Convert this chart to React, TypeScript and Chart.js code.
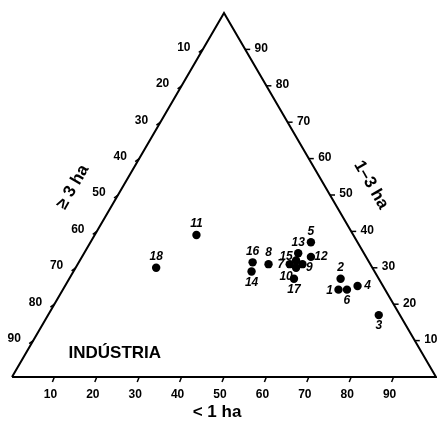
import React, { useEffect, useRef } from "react";
import { Chart, registerables } from "chart.js";

Chart.register(...registerables);

// Ternary data (percent of area): < 1 ha, 1–3 ha, ≥ 3 ha
const pointIds = ["1", "2", "3", "4", "5", "6", "7", "8", "9", "10", "11", "12", "13", "14", "15", "16", "17", "18"];
const lessThan1ha = [65, 64, 78, 69, 52, 67, 50, 45, 53, 52, 24, 54, 50.5, 42, 51, 41, 53, 19];
const from1to3ha = [24, 27, 17, 25, 37, 24, 31, 31, 31, 30, 39, 33, 34, 29, 32, 31.5, 27, 30];
const atLeast3ha = [11, 9, 5, 6, 11, 9, 19, 24, 16, 18, 37, 13, 15.5, 29, 17, 27.5, 20, 51];
const tickValues = [10, 20, 30, 40, 50, 60, 70, 80, 90];
const labelSides = ["left", "top", "bottom", "right", "top", "bottom", "left", "top", "rightBelow", "leftBelow", "top", "right", "top", "bottom", "leftAbove", "top", "bottom", "top"];

const bottomTitle = "< 1 ha";
const leftTitle = "≥ 3 ha";
const rightTitle = "1–3 ha";
const panelTitle = "INDÚSTRIA";

// helpers: ternary -> cartesian (X in 0..100 along base, Y = 1–3 ha share)
const toX = (a: number, b: number) => a + b / 2;
const toY = (b: number) => b;

const sideOffsets: Record<string, [number, number]> = {
  top: [0, -11],
  bottom: [0, 11],
  left: [-9, 1],
  right: [10, 0],
  rightBelow: [7, 4],
  leftBelow: [-10, 9],
  leftAbove: [-10, -4],
};

const FONT = "'Liberation Sans', Arial, sans-serif";

const ternaryPlugin = {
  id: "ternaryDecor",
  afterDatasetsDraw(chart: any) {
    const ctx = chart.ctx as CanvasRenderingContext2D;
    const xs = chart.scales.x;
    const ys = chart.scales.y;
    const px = (a: number, b: number) => [xs.getPixelForValue(toX(a, b)), ys.getPixelForValue(toY(b))];
    ctx.save();
    ctx.strokeStyle = "#000";
    ctx.fillStyle = "#000";
    ctx.lineWidth = 1.5;
    ctx.textAlign = "center";
    ctx.textBaseline = "middle";
    ctx.font = `bold 12px ${FONT}`;

    tickValues.forEach((v) => {
      // bottom axis (< 1 ha): a = v, b = 0
      let [x, y] = px(v, 0);
      ctx.beginPath();
      ctx.moveTo(x, y);
      ctx.lineTo(x - 2, y + 5);
      ctx.stroke();
      ctx.fillText(String(v), x - 4, y + 18);

      // left axis (≥ 3 ha): c = v, a = 0, b = 100 - v
      [x, y] = px(0, 100 - v);
      ctx.beginPath();
      ctx.moveTo(x, y);
      ctx.lineTo(x - 4, y + 3);
      ctx.stroke();
      ctx.fillText(String(v), x - 19, y - 2);

      // right axis (1–3 ha): b = v, a = 100 - v
      [x, y] = px(100 - v, v);
      ctx.beginPath();
      ctx.moveTo(x, y);
      ctx.lineTo(x + 5, y);
      ctx.stroke();
      ctx.fillText(String(v), x + 16, y - 1);
    });

    // axis titles
    ctx.font = `bold 17px ${FONT}`;
    let [bx, by] = px(50, 0);
    ctx.fillText(bottomTitle, bx - 7, by + 35);

    let [lx, ly] = px(0, 50);
    ctx.save();
    ctx.translate(lx - 45, ly - 8);
    ctx.rotate(-Math.PI / 3);
    ctx.fillText(leftTitle, 0, 0);
    ctx.restore();

    let [rx, ry] = px(50, 50);
    ctx.save();
    ctx.translate(rx + 41, ry - 10);
    ctx.rotate(Math.PI / 3);
    ctx.fillText(rightTitle, 0, 0);
    ctx.restore();

    // panel title
    let [tx, ty] = px(21, 6.5);
    ctx.fillText(panelTitle, tx, ty);

    // point labels
    ctx.font = `italic bold 12px ${FONT}`;
    pointIds.forEach((id, i) => {
      const [x, y] = px(lessThan1ha[i], from1to3ha[i]);
      const [dx, dy] = sideOffsets[labelSides[i]];
      ctx.fillText(id, x + dx, y + dy);
    });
    ctx.restore();
  },
};

export default function App() {
  const ref = useRef<HTMLCanvasElement>(null);
  useEffect(() => {
    document.body.style.margin = "0";
    const canvas = ref.current!;
    const trianglePts = [
      { x: toX(0, 0), y: toY(0) },
      { x: toX(100, 0), y: toY(0) },
      { x: toX(0, 100), y: toY(100) },
      { x: toX(0, 0), y: toY(0) },
    ];
    const pts = pointIds.map((_, i) => ({ x: toX(lessThan1ha[i], from1to3ha[i]), y: toY(from1to3ha[i]) }));
    const chart = new Chart(canvas, {
      type: "scatter",
      data: {
        datasets: [
          {
            data: trianglePts,
            showLine: true,
            borderColor: "#000",
            borderWidth: 2,
            pointRadius: 0,
            fill: false,
          },
          {
            data: pts,
            backgroundColor: "#000",
            borderColor: "#000",
            pointRadius: 4.2,
            borderWidth: 0,
          },
        ],
      },
      options: {
        animation: false,
        responsive: false,
        layout: { padding: 0, autoPadding: false },
        plugins: { legend: { display: false }, tooltip: { enabled: false } },
        scales: {
          x: { type: "linear", display: false, min: -12 / 4.24, max: 425 / 4.24 },
          y: { type: "linear", display: false, min: -51 / 3.64, max: 377 / 3.64 },
        },
      },
      plugins: [ternaryPlugin],
    });
    return () => chart.destroy();
  }, []);
  return (
    <div style={{ width: 437, height: 428, background: "#fff" }}>
      <canvas ref={ref} width={437} height={428} style={{ display: "block" }} />
    </div>
  );
}
